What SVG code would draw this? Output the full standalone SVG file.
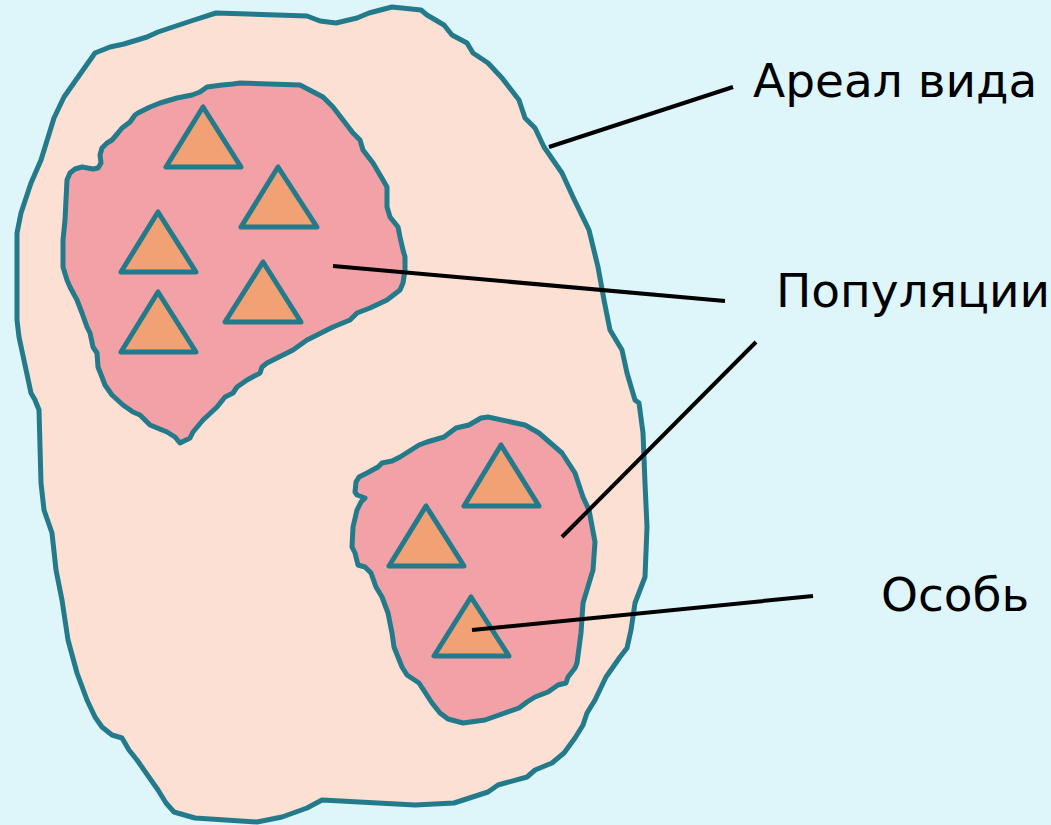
<svg xmlns="http://www.w3.org/2000/svg" width="1051" height="825" viewBox="0 0 1051 825">
<style>
.blob{stroke:#237a8a;stroke-width:5;stroke-linejoin:round;stroke-linecap:round}
.area{fill:#fbe0d3}
.pop{fill:#f2a1a6}
.ind{fill:#f1a174;stroke:#237a8a;stroke-width:5;stroke-linejoin:round}
.lead{stroke:#000;stroke-width:4;fill:none}
.lbl{font-family:"DejaVu Sans",Verdana,sans-serif;font-size:47px;fill:#000}
</style>
<rect width="1051" height="825" fill="#def5fa"/>
<g id="areal">
<path class="blob area" d="M95,53 L110,47 L124,44 L147,37 L158,32 L191,21 L216,13 L307,16 L320,21 L336,23 L357,18 L369,13 L392,7 L421,10 L427,15 L444,25 L452,35 L467,43 L473,53 L488,63 L502,78 L519,100 L525,118 L535,128 L544,147 L562,173 L573,197 L589,230 L598,267 L604,300 L610,330 L622,350 L627,373 L635,400 L639,403 L643,433 L645,483 L647,527 L645,577 L635,603 L631,630 L627,648 L620,657 L606,677 L595,700 L587,713 L583,725 L575,738 L564,753 L552,763 L535,770 L527,777 L498,785 L488,792 L454,803 L415,805 L322,800 L307,808 L282,817 L257,822 L195,818 L174,812 L166,803 L158,790 L137,760 L129,750 L122,738 L112,735 L102,727 L95,717 L87,700 L77,673 L68,640 L62,600 L56,570 L52,533 L44,510 L41,483 L39,410 L35,400 L31,393 L19,337 L17,320 L17,233 L21,213 L31,183 L41,160 L54,118 L64,97 L83,70 Z"/>
</g>
<g id="population1">
<path class="blob pop" d="M240,83 L300,85 L323,97 L333,107 L343,120 L353,133 L360,140 L363,150 L373,163 L383,180 L387,187 L387,207 L390,217 L398,227 L400,237 L403,250 L405,257 L405,270 L403,283 L400,290 L387,300 L370,308 L357,313 L350,320 L333,327 L327,330 L313,337 L307,340 L293,350 L267,363 L262,367 L260,373 L247,380 L237,387 L233,393 L225,397 L217,407 L203,420 L193,432 L190,438 L180,443 L175,437 L167,432 L150,425 L145,420 L140,415 L133,412 L123,405 L112,395 L105,385 L102,377 L98,367 L97,353 L93,347 L90,333 L87,327 L82,313 L77,300 L70,287 L67,280 L63,267 L63,240 L65,220 L67,180 L70,173 L75,169 L82,167 L93,169 L98,168 L101,163 L100,155 L102,148 L107,143 L112,140 L118,133 L122,128 L130,122 L135,115 L138,113 L150,107 L160,103 L177,98 L192,95 L200,92 L207,87 L222,85 L233,84 Z"/>
</g>
<g id="population2">
<path class="blob pop" d="M488,417 L525,425 L539,433 L562,453 L575,473 L583,497 L589,510 L595,542 L593,570 L583,603 L581,633 L577,663 L575,668 L568,677 L566,683 L558,685 L548,692 L535,697 L527,702 L519,708 L485,720 L463,723 L448,719 L440,713 L432,703 L419,683 L407,675 L402,667 L398,657 L394,647 L392,633 L388,613 L382,597 L376,587 L371,573 L365,567 L358,565 L355,553 L352,547 L353,527 L357,510 L361,502 L365,498 L357,495 L355,492 L356,482 L359,477 L367,473 L378,467 L382,463 L392,461 L400,457 L419,445 L427,442 L444,437 L456,428 L469,425 L481,418 Z"/>
</g>
<g id="individuals">
<polygon class="ind" points="203,107 166,167 241,167"/>
<polygon class="ind" points="278,167 241,227 317,227"/>
<polygon class="ind" points="158,212 121,272 196,272"/>
<polygon class="ind" points="263,262 225,322 301,322"/>
<polygon class="ind" points="158,292 121,352 196,352"/>
<polygon class="ind" points="501,445 464,506 539,506"/>
<polygon class="ind" points="426,506 389,566 464,566"/>
<polygon class="ind" points="471,597 434,656 509,656"/>
</g>
<g id="connectors">
<line class="lead" x1="549" y1="147" x2="733" y2="87"/>
<line class="lead" x1="333" y1="266" x2="725" y2="301"/>
<line class="lead" x1="562" y1="537" x2="756" y2="342"/>
<line class="lead" x1="472" y1="630" x2="813" y2="596"/>
</g>
<g id="labels">
<text class="lbl" x="753" y="97">Ареал вида</text>
<text class="lbl" x="776" y="307">Популяции</text>
<text class="lbl" x="881" y="611">Особь</text>
</g>
</svg>
